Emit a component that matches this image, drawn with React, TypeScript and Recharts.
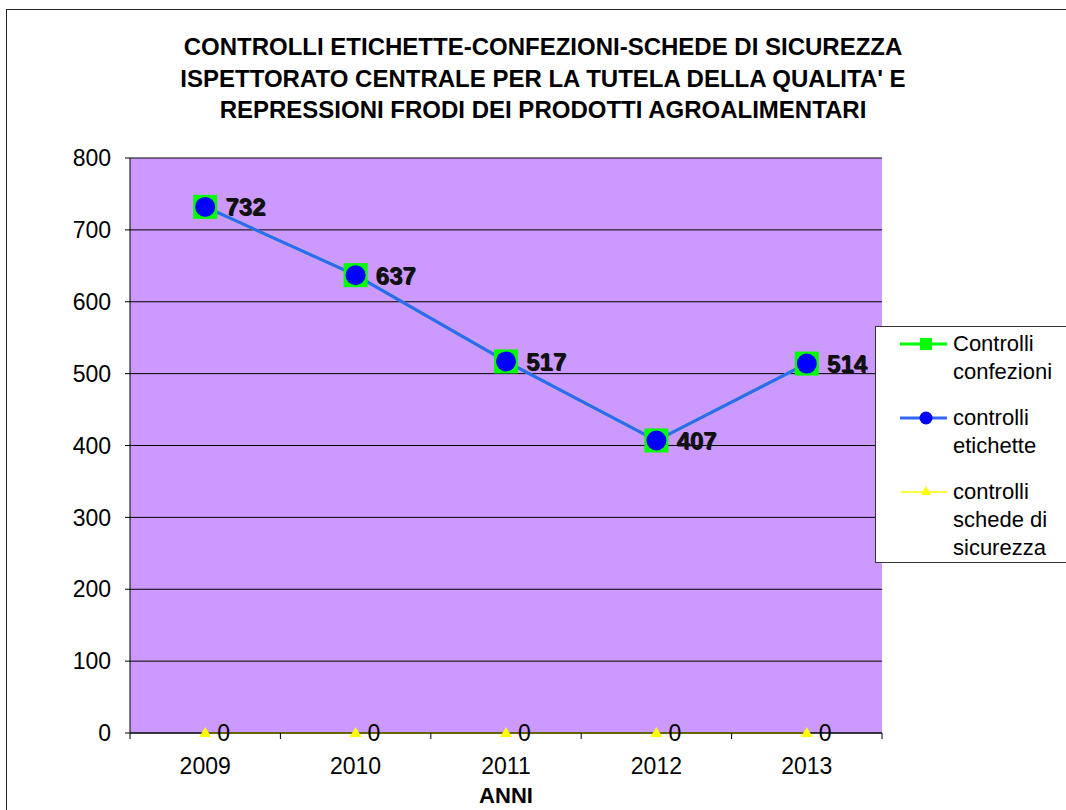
import { LineChart, Line, XAxis, YAxis, CartesianGrid, Legend, LabelList } from 'recharts';

const years = ['2009', '2010', '2011', '2012', '2013'];
const controlliConfezioni = [732, 637, 517, 407, 514];
const controlliEtichette = [732, 637, 517, 407, 514];
const controlliSchede = [0, 0, 0, 0, 0];
const yTicks = [0, 100, 200, 300, 400, 500, 600, 700, 800];

const titleLines = [
  'CONTROLLI ETICHETTE-CONFEZIONI-SCHEDE DI SICUREZZA',
  "ISPETTORATO CENTRALE PER LA TUTELA DELLA QUALITA' E",
  'REPRESSIONI FRODI DEI PRODOTTI AGROALIMENTARI',
];

const data = years.map((year, i) => ({
  year,
  confezioni: controlliConfezioni[i],
  etichette: controlliEtichette[i],
  schede: controlliSchede[i],
}));

const FONT = '"Liberation Sans", Arial, sans-serif';
const PLOT_LEFT = 130;
const PLOT_RIGHT = 882;
const BAND = (PLOT_RIGHT - PLOT_LEFT) / years.length;

const SquareDot = (props: any) => {
  const { cx, cy } = props;
  if (cx == null || cy == null) return null;
  return <rect x={cx - 12} y={cy - 12} width={24} height={24} fill="#00ff00" />;
};

const CircleDot = (props: any) => {
  const { cx, cy } = props;
  if (cx == null || cy == null) return null;
  return <circle cx={cx} cy={cy} r={10} fill="#0000ff" />;
};

const TriangleDot = (props: any) => {
  const { cx, cy } = props;
  if (cx == null || cy == null) return null;
  return <path d={`M${cx} ${cy - 6} L${cx + 6} ${cy + 4} L${cx - 6} ${cy + 4} Z`} fill="#ffff00" />;
};

const boldLabel = (dx: number, dy: number) => (props: any) => {
  const { x, y, value } = props;
  return (
    <text
      x={x + dx}
      y={y + dy}
      dominantBaseline="central"
      fontFamily={FONT}
      fontSize={24}
      fontWeight="bold"
      fill="#111"
    >
      {value}
    </text>
  );
};

const zeroLabel = (props: any) => {
  const { x, y, value } = props;
  return (
    <text x={x + 12} y={y} dominantBaseline="central" fontFamily={FONT} fontSize={23} fill="#000">
      {value}
    </text>
  );
};

// tick text y arrives below the axis line (tickSize + tickMargin), so the
// boundary tick marks are drawn back up at the axis line
const YearTick = (props: any) => {
  const { x, y, payload, index } = props;
  const axisY = y - 8;
  return (
    <g>
      <line x1={x - BAND / 2} y1={axisY} x2={x - BAND / 2} y2={axisY + 6} stroke="#000" />
      {index === years.length - 1 && (
        <line x1={x + BAND / 2} y1={axisY} x2={x + BAND / 2} y2={axisY + 6} stroke="#000" />
      )}
      <text x={x} y={y + 33} textAnchor="middle" fontFamily={FONT} fontSize={23} fill="#000">
        {payload.value}
      </text>
    </g>
  );
};

const AxisTitle = (props: any) => {
  const { viewBox } = props;
  if (!viewBox) return null;
  return (
    <text
      x={viewBox.x + viewBox.width / 2}
      y={viewBox.y + 70}
      textAnchor="middle"
      fontFamily={FONT}
      fontSize={22}
      fontWeight="bold"
      fill="#000"
    >
      ANNI
    </text>
  );
};

const legendItems = [
  { lines: ['Controlli', 'confezioni'], kind: 'square' },
  { lines: ['controlli', 'etichette'], kind: 'circle' },
  { lines: ['controlli', 'schede di', 'sicurezza'], kind: 'triangle' },
];

const LegendBox = () => (
  <div
    style={{
      width: 200,
      height: 237,
      border: '1px solid #333',
      background: '#fff',
      fontFamily: FONT,
      fontSize: 22,
      color: '#000',
      boxSizing: 'border-box',
      paddingTop: 3,
    }}
  >
    {legendItems.map((item) => (
      <div key={item.lines[0] + item.kind} style={{ display: 'flex', marginBottom: 18 }}>
        <svg width={77} height={28} style={{ flex: 'none' }}>
          {item.kind === 'square' && (
            <g>
              <line x1={24} y1={14} x2={71} y2={14} stroke="#00ff00" strokeWidth={3} />
              <rect x={44} y={8} width={12} height={12} fill="#00ff00" />
            </g>
          )}
          {item.kind === 'circle' && (
            <g>
              <line x1={24} y1={14} x2={71} y2={14} stroke="#3366ff" strokeWidth={3} />
              <circle cx={50} cy={14} r={6.5} fill="#0000ff" />
            </g>
          )}
          {item.kind === 'triangle' && (
            <g>
              <line x1={25} y1={14} x2={71} y2={14} stroke="#ffff00" strokeWidth={1.5} />
              <path d="M50 8 L55 17 L45 17 Z" fill="#ffff00" />
            </g>
          )}
        </svg>
        <div style={{ lineHeight: '28px' }}>
          {item.lines.map((l) => (
            <div key={l}>{l}</div>
          ))}
        </div>
      </div>
    ))}
  </div>
);

export default function App() {
  return (
    <div
      style={{
        position: 'absolute',
        left: 0,
        top: 0,
        width: 1066,
        height: 810,
        overflow: 'hidden',
        background: '#fff',
      }}
    >
      <div
        style={{
          position: 'absolute',
          left: 6,
          top: 9,
          width: 1200,
          height: 900,
          border: '1.5px solid #222',
        }}
      />
      <div
        style={{
          position: 'absolute',
          left: 0,
          top: 31,
          width: 1086,
          textAlign: 'center',
          fontFamily: FONT,
          fontWeight: 'bold',
          fontSize: 24,
          lineHeight: '31.5px',
          color: '#000',
        }}
      >
        {titleLines.map((l) => (
          <div key={l}>{l}</div>
        ))}
      </div>
      <div style={{ position: 'absolute', left: 0, top: 0 }}>
        <LineChart
          width={1066}
          height={810}
          data={data}
          margin={{ top: 158, right: 184, bottom: 1, left: 0 }}
        >
          <CartesianGrid vertical={false} stroke="#000" fill="#cc99ff" fillOpacity={1} />
          <XAxis
            dataKey="year"
            scale="band"
            height={76}
            axisLine={{ stroke: '#000' }}
            tickLine={false}
            tick={<YearTick />}
            interval={0}
            label={<AxisTitle />}
          />
          <YAxis
            domain={[0, 800]}
            ticks={yTicks}
            width={130}
            tickSize={5}
            tickMargin={14}
            axisLine={{ stroke: '#000' }}
            tickLine={{ stroke: '#000' }}
            tick={{ fontFamily: FONT, fontSize: 23, fill: '#000' }}
          />
          <YAxis
            yAxisId="border"
            orientation="right"
            width={0}
            tick={false}
            tickLine={false}
            axisLine={{ stroke: '#888' }}
          />
          <Line
            dataKey="confezioni"
            name="Controlli confezioni"
            stroke="#00ff00"
            strokeWidth={3}
            dot={<SquareDot />}
            isAnimationActive={false}
          >
            <LabelList dataKey="confezioni" content={boldLabel(21, 1)} />
          </Line>
          <Line
            dataKey="etichette"
            name="controlli etichette"
            stroke="#3366ff"
            strokeWidth={3}
            dot={<CircleDot />}
            isAnimationActive={false}
          >
            <LabelList dataKey="etichette" content={boldLabel(20, 0)} />
          </Line>
          <Line
            dataKey="schede"
            name="controlli schede di sicurezza"
            stroke="#c8c800"
            strokeWidth={2}
            dot={<TriangleDot />}
            isAnimationActive={false}
          >
            <LabelList dataKey="schede" content={zeroLabel} />
          </Line>
          <Legend
            layout="vertical"
            align="center"
            verticalAlign="middle"
            wrapperStyle={{ left: 875, top: 326, width: 200 }}
            content={() => <LegendBox />}
          />
        </LineChart>
      </div>
    </div>
  );
}
